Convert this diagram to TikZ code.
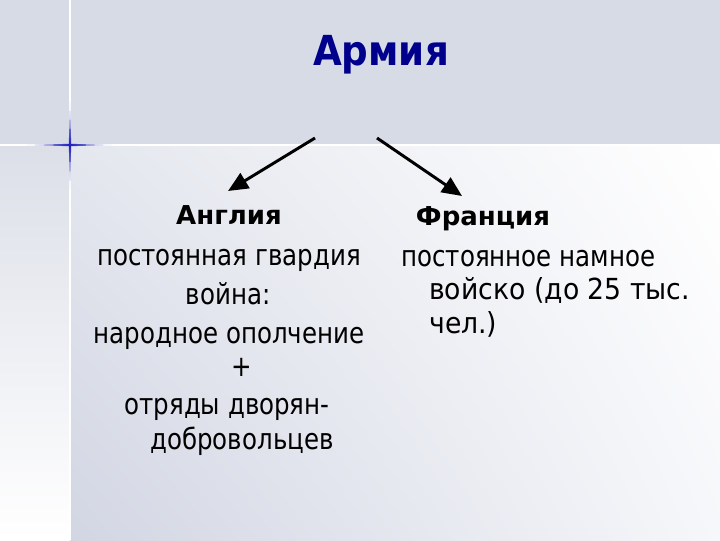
\documentclass[tikz,border=0pt]{standalone}
\usepackage{fontspec}
\setmainfont{DejaVu Sans}[FakeStretch=0.845]
\newfontfamily\headfont{DejaVu Sans}
\newfontfamily\widefont{DejaVu Sans}[FakeStretch=0.92]
\newfontfamily\titlefont{DejaVu Sans}[FakeStretch=0.9]
\usetikzlibrary{arrows.meta,shadings}
\definecolor{bandgrey}{RGB}{215,219,230}
\definecolor{titleblue}{RGB}{0,0,140}
\definecolor{sparkblue}{RGB}{30,30,190}
\definecolor{bgUL}{RGB}{228,231,238}
\definecolor{bgLL}{RGB}{210,214,227}
\definecolor{bgLR}{RGB}{246,247,250}
\definecolor{stripTop}{RGB}{220,223,232}
\definecolor{stripSpark}{RGB}{225,228,236}
\tikzset{
  body/.style={inner sep=0pt, font=\fontsize{21.75pt}{26pt}\selectfont, text=black},
  bodywide/.style={inner sep=0pt, text=black, font=\widefont\fontsize{21.75pt}{26pt}\selectfont},
  head/.style={inner sep=0pt, text=black, font=\headfont\bfseries\fontsize{19.5pt}{24pt}\selectfont},
  titletext/.style={inner sep=0pt, text=titleblue, font=\titlefont\bfseries\fontsize{31pt}{36pt}\selectfont},
  branch/.style={line width=2.2pt, -{Triangle[length=15pt,width=13pt]}},
  seam/.style={white, line width=1.2pt}
}
\begin{document}
\begin{tikzpicture}[x=0.75pt,y=-0.75pt]
\useasboundingbox (0,0) rectangle (720,540);
% background
\fill[bandgrey] (0,0) rectangle (720,145);
\shade[upper left=bgUL, upper right=white, lower left=bgLL, lower right=bgLR]
  (70,145) rectangle (720,540);
\shade[top color=stripTop, bottom color=white] (0,145) rectangle (70,540);
\draw[seam] (0,145) -- (720,145);
\draw[seam] (70,0) -- (70,540);
% sparkle
\shade[left color=bandgrey, right color=sparkblue] (26,145) -- (70,143.8) -- (70,146.2) -- cycle;
\shade[left color=sparkblue, right color=bandgrey] (70,143.8) -- (112,145) -- (70,146.2) -- cycle;
\shade[top color=bandgrey, bottom color=sparkblue] (70,102) -- (71.2,145) -- (68.8,145) -- cycle;
\shade[top color=sparkblue, bottom color=stripSpark] (68.8,145) -- (71.2,145) -- (70,190) -- cycle;
% title
\node[titletext] (title) at (381,55) {Армия};
% arrows
\coordinate (l0) at (315,138);
\coordinate (l1) at (228,191);
\coordinate (r0) at (377,138);
\coordinate (r1) at (462,196);
\draw[branch] (l0) -- (l1);
\draw[branch] (r0) -- (r1);
% left column
\node[head, anchor=base] (eng) at (229,224) {Англия};
\node[body, anchor=base] (e1) at (229,265) {постоянная гвардия};
\node[body, anchor=base] (e2) at (228,304) {война:};
\node[body, anchor=base] (e3) at (229,343) {народное ополчение};
\node[body, anchor=base] (e4) at (242,376) {+};
\node[body, anchor=base] (e5) at (227,414) {отряды дворян-};
\node[body, anchor=base] (e6) at (242,449) {добровольцев};
% right column
\node[head, anchor=base] (fra) at (483,225) {Франция};
\node[body, anchor=base west] (f1) at (401,266) {постоянное намное};
\node[bodywide, anchor=base west] (f2) at (429,299) {войско (до 25 тыс.};
\node[bodywide, anchor=base west] (f3) at (429,333) {чел.)};
\end{tikzpicture}
\end{document}
